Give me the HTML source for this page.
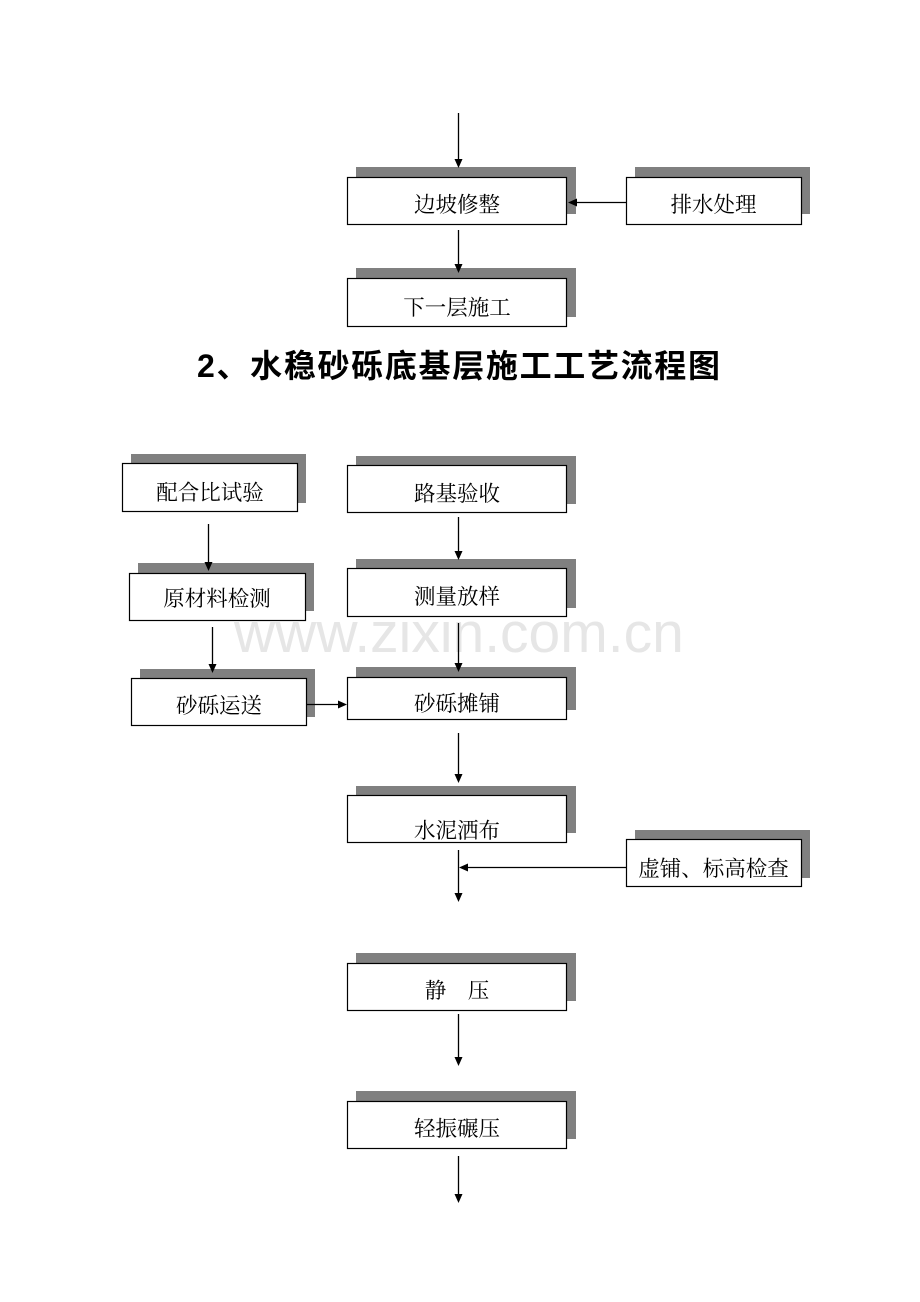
<!DOCTYPE html>
<html>
<head>
<meta charset="utf-8">
<style>
  html,body{margin:0;padding:0;background:#fff;}
  body{width:920px;height:1302px;overflow:hidden;position:relative;}
  svg{position:absolute;left:0;top:0;}
  .lbl{font-family:"Liberation Serif","Noto Serif CJK SC","Noto Sans CJK SC",serif;font-size:21.5px;fill:#000;}
</style>
</head>
<body>
<svg width="920" height="1302" viewBox="0 0 920 1302" xmlns="http://www.w3.org/2000/svg">
  <!-- watermark -->
  <text x="234" y="652" font-family="'Liberation Sans', Arial, sans-serif" font-size="57" fill="#e6e6e6">www.zixin.com.cn</text>

  <!-- shadows -->
  <g fill="#808080">
    <rect x="356" y="167" width="220" height="47"/>
    <rect x="635" y="167" width="175" height="47"/>
    <rect x="356" y="268" width="220" height="49"/>
    <rect x="131" y="454" width="175" height="49"/>
    <rect x="356" y="456" width="220" height="48"/>
    <rect x="138" y="563" width="176" height="48"/>
    <rect x="356" y="559" width="220" height="49"/>
    <rect x="140" y="669" width="175" height="48"/>
    <rect x="356" y="667" width="220" height="43"/>
    <rect x="356" y="786" width="220" height="47"/>
    <rect x="635" y="830" width="175" height="48"/>
    <rect x="356" y="953" width="220" height="48"/>
    <rect x="356" y="1091" width="220" height="48"/>
  </g>

  <!-- boxes -->
  <g fill="#fff" stroke="#000" stroke-width="1.2">
    <rect x="347.5" y="177.5" width="219" height="47"/>
    <rect x="626.5" y="177.5" width="175" height="47"/>
    <rect x="347.5" y="278.5" width="219" height="48"/>
    <rect x="122.5" y="463.5" width="175" height="48"/>
    <rect x="347.5" y="465.5" width="219" height="47"/>
    <rect x="129.5" y="573.5" width="176" height="47"/>
    <rect x="347.5" y="568.5" width="219" height="48"/>
    <rect x="131.5" y="678.5" width="175" height="47"/>
    <rect x="347.5" y="677.5" width="219" height="42"/>
    <rect x="347.5" y="795.5" width="219" height="47"/>
    <rect x="626.5" y="839.5" width="175" height="47"/>
    <rect x="347.5" y="963.5" width="219" height="47"/>
    <rect x="347.5" y="1101.5" width="219" height="47"/>
  </g>

  <!-- connector lines -->
  <g stroke="#000" stroke-width="1.3" fill="none">
    <line x1="458.5" y1="113" x2="458.5" y2="160"/>
    <line x1="626" y1="202.5" x2="576" y2="202.5"/>
    <line x1="458.5" y1="230" x2="458.5" y2="265"/>
    <line x1="208.5" y1="524" x2="208.5" y2="563"/>
    <line x1="212.5" y1="627" x2="212.5" y2="665"/>
    <line x1="306" y1="704.5" x2="339" y2="704.5"/>
    <line x1="458.5" y1="517" x2="458.5" y2="552"/>
    <line x1="458.5" y1="623" x2="458.5" y2="664"/>
    <line x1="458.5" y1="733" x2="458.5" y2="775"/>
    <line x1="458.5" y1="850" x2="458.5" y2="894"/>
    <line x1="626" y1="867.5" x2="466" y2="867.5"/>
    <line x1="458.5" y1="1014" x2="458.5" y2="1058"/>
    <line x1="458.5" y1="1156" x2="458.5" y2="1195"/>
  </g>

  <!-- arrowheads -->
  <g fill="#000">
    <polygon points="454.5,159 462.5,159 458.5,168"/>
    <polygon points="577,198.5 577,206.5 568,202.5"/>
    <polygon points="454.5,264 462.5,264 458.5,273"/>
    <polygon points="204.5,562 212.5,562 208.5,571"/>
    <polygon points="208.5,664 216.5,664 212.5,673"/>
    <polygon points="338,700.5 338,708.5 347,704.5"/>
    <polygon points="454.5,551 462.5,551 458.5,560"/>
    <polygon points="454.5,663 462.5,663 458.5,672"/>
    <polygon points="454.5,774 462.5,774 458.5,783"/>
    <polygon points="454.5,893 462.5,893 458.5,902"/>
    <polygon points="468,863.5 468,871.5 459,867.5"/>
    <polygon points="454.5,1057 462.5,1057 458.5,1066"/>
    <polygon points="454.5,1194 462.5,1194 458.5,1203"/>
  </g>

  <!-- title -->
  <text x="197" y="377" font-family="'Liberation Sans','Noto Sans CJK SC',sans-serif" font-weight="bold" font-size="32" fill="#000" textLength="523" lengthAdjust="spacing">2、水稳砂砾底基层施工工艺流程图</text>

  <!-- labels -->
  <g class="lbl" text-anchor="middle">
    <text x="457" y="212">边坡修整</text>
    <text x="713.5" y="212">排水处理</text>
    <text x="457" y="315">下一层施工</text>
    <text x="210" y="500">配合比试验</text>
    <text x="457" y="501">路基验收</text>
    <text x="217" y="606">原材料检测</text>
    <text x="457" y="604">测量放样</text>
    <text x="219" y="713">砂砾运送</text>
    <text x="457" y="711">砂砾摊铺</text>
    <text x="457" y="838">水泥洒布</text>
    <text x="713.5" y="876">虚铺、标高检查</text>
    <text x="457" y="998">静　压</text>
    <text x="457" y="1136">轻振碾压</text>
  </g>
</svg>
</body>
</html>
